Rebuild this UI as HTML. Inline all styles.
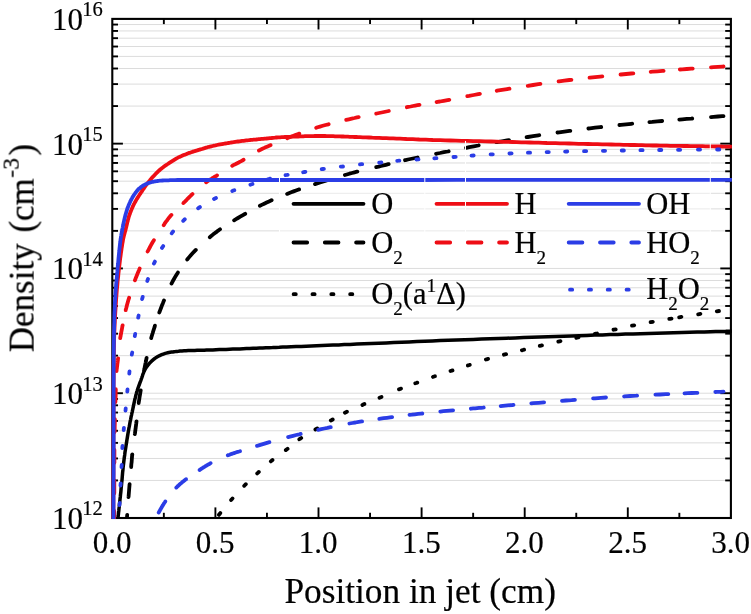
<!DOCTYPE html>
<html><head><meta charset="utf-8"><title>Density vs position in jet</title>
<style>html,body{margin:0;padding:0;background:#fff}svg{display:block}text{font-family:"Liberation Serif",serif}</style>
</head><body>
<svg width="751" height="614" viewBox="0 0 751 614">
<rect x="0" y="0" width="751" height="614" fill="#fff"/>
<g stroke="#dcdcdc" stroke-width="1"><line x1="112.3" x2="730.9" y1="480.44" y2="480.44"/><line x1="112.3" x2="730.9" y1="458.46" y2="458.46"/><line x1="112.3" x2="730.9" y1="442.87" y2="442.87"/><line x1="112.3" x2="730.9" y1="430.78" y2="430.78"/><line x1="112.3" x2="730.9" y1="420.90" y2="420.90"/><line x1="112.3" x2="730.9" y1="412.54" y2="412.54"/><line x1="112.3" x2="730.9" y1="405.31" y2="405.31"/><line x1="112.3" x2="730.9" y1="398.92" y2="398.92"/><line x1="112.3" x2="730.9" y1="393.21" y2="393.21"/><line x1="112.3" x2="730.9" y1="355.65" y2="355.65"/><line x1="112.3" x2="730.9" y1="333.67" y2="333.67"/><line x1="112.3" x2="730.9" y1="318.08" y2="318.08"/><line x1="112.3" x2="730.9" y1="305.99" y2="305.99"/><line x1="112.3" x2="730.9" y1="296.11" y2="296.11"/><line x1="112.3" x2="730.9" y1="287.75" y2="287.75"/><line x1="112.3" x2="730.9" y1="280.52" y2="280.52"/><line x1="112.3" x2="730.9" y1="274.13" y2="274.13"/><line x1="112.3" x2="730.9" y1="268.43" y2="268.43"/><line x1="112.3" x2="730.9" y1="230.86" y2="230.86"/><line x1="112.3" x2="730.9" y1="208.89" y2="208.89"/><line x1="112.3" x2="730.9" y1="193.30" y2="193.30"/><line x1="112.3" x2="730.9" y1="181.20" y2="181.20"/><line x1="112.3" x2="730.9" y1="171.32" y2="171.32"/><line x1="112.3" x2="730.9" y1="162.97" y2="162.97"/><line x1="112.3" x2="730.9" y1="155.73" y2="155.73"/><line x1="112.3" x2="730.9" y1="149.35" y2="149.35"/><line x1="112.3" x2="730.9" y1="143.64" y2="143.64"/><line x1="112.3" x2="730.9" y1="106.07" y2="106.07"/><line x1="112.3" x2="730.9" y1="84.10" y2="84.10"/><line x1="112.3" x2="730.9" y1="68.51" y2="68.51"/><line x1="112.3" x2="730.9" y1="56.41" y2="56.41"/><line x1="112.3" x2="730.9" y1="46.53" y2="46.53"/><line x1="112.3" x2="730.9" y1="38.18" y2="38.18"/><line x1="112.3" x2="730.9" y1="30.94" y2="30.94"/><line x1="112.3" x2="730.9" y1="24.56" y2="24.56"/></g>
<rect x="279.5" y="176" width="430.5" height="90" fill="#fff" fill-opacity="0.4"/>
<g stroke="#000" stroke-width="1.9"><line x1="112.3" x2="118.0" y1="480.44" y2="480.44"/><line x1="730.9" x2="725.2" y1="480.44" y2="480.44"/><line x1="112.3" x2="118.0" y1="458.46" y2="458.46"/><line x1="730.9" x2="725.2" y1="458.46" y2="458.46"/><line x1="112.3" x2="118.0" y1="442.87" y2="442.87"/><line x1="730.9" x2="725.2" y1="442.87" y2="442.87"/><line x1="112.3" x2="118.0" y1="430.78" y2="430.78"/><line x1="730.9" x2="725.2" y1="430.78" y2="430.78"/><line x1="112.3" x2="118.0" y1="420.90" y2="420.90"/><line x1="730.9" x2="725.2" y1="420.90" y2="420.90"/><line x1="112.3" x2="118.0" y1="412.54" y2="412.54"/><line x1="730.9" x2="725.2" y1="412.54" y2="412.54"/><line x1="112.3" x2="118.0" y1="405.31" y2="405.31"/><line x1="730.9" x2="725.2" y1="405.31" y2="405.31"/><line x1="112.3" x2="118.0" y1="398.92" y2="398.92"/><line x1="730.9" x2="725.2" y1="398.92" y2="398.92"/><line x1="112.3" x2="122.9" y1="393.21" y2="393.21"/><line x1="730.9" x2="720.3" y1="393.21" y2="393.21"/><line x1="112.3" x2="118.0" y1="355.65" y2="355.65"/><line x1="730.9" x2="725.2" y1="355.65" y2="355.65"/><line x1="112.3" x2="118.0" y1="333.67" y2="333.67"/><line x1="730.9" x2="725.2" y1="333.67" y2="333.67"/><line x1="112.3" x2="118.0" y1="318.08" y2="318.08"/><line x1="730.9" x2="725.2" y1="318.08" y2="318.08"/><line x1="112.3" x2="118.0" y1="305.99" y2="305.99"/><line x1="730.9" x2="725.2" y1="305.99" y2="305.99"/><line x1="112.3" x2="118.0" y1="296.11" y2="296.11"/><line x1="730.9" x2="725.2" y1="296.11" y2="296.11"/><line x1="112.3" x2="118.0" y1="287.75" y2="287.75"/><line x1="730.9" x2="725.2" y1="287.75" y2="287.75"/><line x1="112.3" x2="118.0" y1="280.52" y2="280.52"/><line x1="730.9" x2="725.2" y1="280.52" y2="280.52"/><line x1="112.3" x2="118.0" y1="274.13" y2="274.13"/><line x1="730.9" x2="725.2" y1="274.13" y2="274.13"/><line x1="112.3" x2="122.9" y1="268.43" y2="268.43"/><line x1="730.9" x2="720.3" y1="268.43" y2="268.43"/><line x1="112.3" x2="118.0" y1="230.86" y2="230.86"/><line x1="730.9" x2="725.2" y1="230.86" y2="230.86"/><line x1="112.3" x2="118.0" y1="208.89" y2="208.89"/><line x1="730.9" x2="725.2" y1="208.89" y2="208.89"/><line x1="112.3" x2="118.0" y1="193.30" y2="193.30"/><line x1="730.9" x2="725.2" y1="193.30" y2="193.30"/><line x1="112.3" x2="118.0" y1="181.20" y2="181.20"/><line x1="730.9" x2="725.2" y1="181.20" y2="181.20"/><line x1="112.3" x2="118.0" y1="171.32" y2="171.32"/><line x1="730.9" x2="725.2" y1="171.32" y2="171.32"/><line x1="112.3" x2="118.0" y1="162.97" y2="162.97"/><line x1="730.9" x2="725.2" y1="162.97" y2="162.97"/><line x1="112.3" x2="118.0" y1="155.73" y2="155.73"/><line x1="730.9" x2="725.2" y1="155.73" y2="155.73"/><line x1="112.3" x2="118.0" y1="149.35" y2="149.35"/><line x1="730.9" x2="725.2" y1="149.35" y2="149.35"/><line x1="112.3" x2="122.9" y1="143.64" y2="143.64"/><line x1="730.9" x2="720.3" y1="143.64" y2="143.64"/><line x1="112.3" x2="118.0" y1="106.07" y2="106.07"/><line x1="730.9" x2="725.2" y1="106.07" y2="106.07"/><line x1="112.3" x2="118.0" y1="84.10" y2="84.10"/><line x1="730.9" x2="725.2" y1="84.10" y2="84.10"/><line x1="112.3" x2="118.0" y1="68.51" y2="68.51"/><line x1="730.9" x2="725.2" y1="68.51" y2="68.51"/><line x1="112.3" x2="118.0" y1="56.41" y2="56.41"/><line x1="730.9" x2="725.2" y1="56.41" y2="56.41"/><line x1="112.3" x2="118.0" y1="46.53" y2="46.53"/><line x1="730.9" x2="725.2" y1="46.53" y2="46.53"/><line x1="112.3" x2="118.0" y1="38.18" y2="38.18"/><line x1="730.9" x2="725.2" y1="38.18" y2="38.18"/><line x1="112.3" x2="118.0" y1="30.94" y2="30.94"/><line x1="730.9" x2="725.2" y1="30.94" y2="30.94"/><line x1="112.3" x2="118.0" y1="24.56" y2="24.56"/><line x1="730.9" x2="725.2" y1="24.56" y2="24.56"/><line x1="163.85" x2="163.85" y1="18.9" y2="24.1"/><line x1="163.85" x2="163.85" y1="518.0" y2="512.8"/><line x1="215.40" x2="215.40" y1="18.9" y2="29.5"/><line x1="215.40" x2="215.40" y1="518.0" y2="507.4"/><line x1="266.95" x2="266.95" y1="18.9" y2="24.1"/><line x1="266.95" x2="266.95" y1="518.0" y2="512.8"/><line x1="318.50" x2="318.50" y1="18.9" y2="29.5"/><line x1="318.50" x2="318.50" y1="518.0" y2="507.4"/><line x1="370.05" x2="370.05" y1="18.9" y2="24.1"/><line x1="370.05" x2="370.05" y1="518.0" y2="512.8"/><line x1="421.60" x2="421.60" y1="18.9" y2="29.5"/><line x1="421.60" x2="421.60" y1="518.0" y2="507.4"/><line x1="473.15" x2="473.15" y1="18.9" y2="24.1"/><line x1="473.15" x2="473.15" y1="518.0" y2="512.8"/><line x1="524.70" x2="524.70" y1="18.9" y2="29.5"/><line x1="524.70" x2="524.70" y1="518.0" y2="507.4"/><line x1="576.25" x2="576.25" y1="18.9" y2="24.1"/><line x1="576.25" x2="576.25" y1="518.0" y2="512.8"/><line x1="627.80" x2="627.80" y1="18.9" y2="29.5"/><line x1="627.80" x2="627.80" y1="518.0" y2="507.4"/><line x1="679.35" x2="679.35" y1="18.9" y2="24.1"/><line x1="679.35" x2="679.35" y1="518.0" y2="512.8"/></g>
<rect x="112.3" y="18.9" width="618.6" height="499.1" fill="none" stroke="#000" stroke-width="2.1"/>
<clipPath id="c"><rect x="110.3" y="17.8" width="621.6" height="501.2"/></clipPath>
<g clip-path="url(#c)" fill="none" stroke-width="3.8" stroke-linecap="round" stroke-linejoin="round"><path d="M118.0 517.6L118.3 515.3L118.5 513.0L118.8 510.7L119.0 508.4L119.3 506.2L119.5 503.9L119.8 501.6L120.0 499.3L120.3 497.0L120.5 494.7L120.8 492.3L121.0 490.0L121.2 487.5L121.5 485.1L121.7 482.6L122.0 480.1L122.2 477.6L122.4 475.1L122.6 472.6L122.9 470.0L123.1 467.5L123.4 465.0L123.7 462.5L124.0 460.0L124.3 457.5L124.7 454.9L125.0 452.3L125.4 449.8L125.8 447.2L126.2 444.6L126.6 442.1L127.0 439.5L127.4 437.1L127.8 434.6L128.2 432.3L128.6 430.0L128.9 428.2L129.3 426.4L129.6 424.7L129.9 423.0L130.2 421.3L130.6 419.6L130.9 418.0L131.2 416.4L131.6 414.8L131.9 413.2L132.3 411.6L132.6 410.0L132.9 408.6L133.2 407.1L133.5 405.7L133.8 404.3L134.1 402.9L134.4 401.5L134.7 400.1L135.0 398.7L135.4 397.4L135.7 396.0L136.0 394.7L136.4 393.4L136.7 392.2L137.1 391.1L137.5 389.9L137.8 388.8L138.2 387.6L138.6 386.5L139.0 385.4L139.4 384.3L139.8 383.2L140.2 382.1L140.6 381.1L141.0 380.0L141.3 379.0L141.7 378.1L142.0 377.1L142.3 376.2L142.6 375.2L142.9 374.3L143.3 373.4L143.6 372.5L144.0 371.6L144.4 370.7L144.8 369.9L145.3 369.0L145.8 368.1L146.4 367.3L147.0 366.4L147.6 365.6L148.2 364.8L148.9 364.0L149.6 363.2L150.3 362.4L151.0 361.7L151.8 360.9L152.5 360.3L153.3 359.6L154.1 359.0L154.9 358.4L155.7 357.8L156.6 357.3L157.4 356.8L158.3 356.3L159.2 355.8L160.1 355.4L161.1 354.9L162.0 354.5L163.0 354.2L164.0 353.8L165.2 353.4L166.4 353.1L167.6 352.8L168.9 352.5L170.2 352.3L171.5 352.1L172.8 351.9L174.2 351.7L175.6 351.6L177.0 351.4L178.5 351.3L180.0 351.1L182.0 350.9L184.0 350.8L186.0 350.7L188.2 350.6L190.3 350.5L192.5 350.4L194.8 350.4L197.1 350.3L199.4 350.3L201.8 350.2L204.2 350.2L206.6 350.1L209.6 350.0L212.8 349.9L216.0 349.7L219.3 349.6L222.7 349.5L226.0 349.4L229.5 349.2L232.9 349.1L236.3 349.0L239.8 348.9L243.1 348.7L246.5 348.6L249.8 348.5L253.1 348.3L256.3 348.2L259.5 348.1L262.7 348.0L265.9 347.8L269.2 347.7L272.5 347.6L275.9 347.4L279.3 347.3L282.8 347.1L286.5 347.0L291.2 346.8L296.1 346.6L301.1 346.4L306.2 346.2L311.4 346.0L316.6 345.8L322.0 345.6L327.5 345.3L333.0 345.1L338.6 344.9L344.3 344.6L350.0 344.4L356.9 344.1L364.0 343.8L371.3 343.5L378.7 343.2L386.1 342.9L393.7 342.5L401.4 342.2L409.1 341.9L416.8 341.5L424.5 341.2L432.3 340.9L440.0 340.6L448.2 340.3L456.4 340.0L464.7 339.7L473.1 339.4L481.5 339.1L489.9 338.7L498.3 338.5L506.7 338.2L515.1 337.9L523.5 337.6L531.8 337.3L540.0 337.0L547.9 336.7L555.7 336.5L563.6 336.2L571.4 335.9L579.1 335.7L586.9 335.4L594.6 335.1L602.4 334.9L610.0 334.6L617.7 334.4L625.4 334.1L633.0 333.9L640.6 333.7L648.6 333.4L656.9 333.2L665.3 333.0L673.6 332.7L681.8 332.5L689.7 332.3L697.2 332.1L704.1 331.9L710.3 331.8L715.6 331.6L720.0 331.5L721.3 331.5L722.5 331.4L723.5 331.4L724.5 331.4L725.4 331.4L726.3 331.3L727.1 331.3L727.9 331.3L728.6 331.3L729.5 331.2L730.3 331.2L731.2 331.2" stroke="#000" stroke-width="3.5"/><path d="M127.0 517.6L127.1 516.0L127.2 514.8M128.5 497.1L128.6 496.4L128.7 495.1L128.8 493.9L128.9 492.6L129.0 491.4L129.1 490.2L129.2 488.9L129.3 487.7L129.4 486.5L129.5 485.2L129.6 484.2M131.2 467.1L131.2 466.4L131.3 465.0L131.4 463.7L131.6 462.4L131.7 461.1L131.8 459.7L131.9 458.4L132.0 457.0L132.1 455.7L132.3 454.4L132.3 454.3M134.8 434.1L134.9 433.6L135.1 432.4L135.2 431.3L135.4 430.1L135.5 429.0L135.7 427.9L135.8 426.7L136.0 425.6L136.1 424.4L136.3 423.2L136.4 422.0L136.5 421.3M138.7 403.1L138.7 402.6L138.9 401.5L139.1 400.3L139.3 399.2L139.4 398.1L139.6 397.0L139.8 395.8L140.0 394.7L140.2 393.5L140.4 392.3L140.6 391.0L140.7 390.4M144.1 370.4L144.4 369.0L144.5 368.2L144.7 367.5L144.8 366.8L144.9 366.1L145.1 365.5L145.2 364.9L145.3 364.3L145.4 363.7L145.6 363.1L145.7 362.5L145.8 361.8L146.0 361.0L146.2 359.8L146.5 358.5L146.6 357.8M151.2 338.1L151.4 337.2L151.7 336.2L152.0 335.2L152.3 334.2L152.7 333.1L153.0 332.0L153.5 330.3L154.1 328.5L154.7 326.6L154.9 325.7M159.3 312.5L159.4 312.2L160.2 310.1L161.0 308.0L161.9 305.6L162.9 303.2L163.8 300.8L164.0 300.4M171.5 283.6L171.5 283.6L172.7 281.3L174.0 279.0L175.2 276.9L176.5 274.7L177.8 272.7L177.9 272.5M187.2 259.5L187.8 258.8L189.4 256.9L191.0 255.0L192.8 253.0L194.6 251.1L195.8 249.9M209.8 237.2L210.9 236.3L212.9 234.6L215.0 233.0L216.9 231.6L218.7 230.2L220.0 229.3M234.1 220.3L236.0 219.2L238.0 218.0L240.2 216.7L242.5 215.3L244.9 214.0L245.2 213.8M259.9 205.8L261.7 204.9L264.2 203.7L266.6 202.5L269.0 201.4L271.5 200.3L271.6 200.2M287.1 193.9L288.8 193.2L291.2 192.3L293.6 191.4L296.0 190.5L298.1 189.7L299.1 189.4M315.0 184.1L315.8 183.8L317.9 183.2L320.0 182.5L322.5 181.7L325.1 180.9L327.3 180.2M344.9 175.0L346.7 174.5L349.4 173.7L352.0 173.0L354.5 172.3L356.9 171.7L357.4 171.6M376.2 167.1L376.2 167.1L378.6 166.6L381.0 166.0L383.4 165.4L385.9 164.8L388.3 164.2L388.7 164.1M405.0 160.2L405.5 160.1L407.9 159.5L410.4 159.0L412.8 158.5L415.2 158.0L417.6 157.5M436.1 153.8L437.2 153.5L440.0 153.0L443.8 152.2L447.8 151.5L448.7 151.3M466.1 147.9L469.3 147.2L473.8 146.4L478.3 145.5L478.7 145.4M496.3 142.2L497.0 142.1L502.0 141.3L507.1 140.4L509.0 140.1M526.6 137.2L527.9 137.0L533.1 136.1L538.4 135.3L539.3 135.2M557.5 132.5L559.1 132.3L564.3 131.6L569.4 130.9L570.3 130.8M588.4 128.5L590.0 128.3L595.1 127.7L600.3 127.1L601.2 127.0M619.4 125.0L620.9 124.9L626.1 124.3L631.3 123.8L632.2 123.7M649.4 122.1L652.2 121.9L657.4 121.4L662.2 121.0M679.3 119.6L682.3 119.3L686.8 118.9L691.3 118.6L692.2 118.5M711.0 117.1L713.5 116.9L717.9 116.5L722.3 116.2L723.5 116.1" stroke="#000"/><path d="M218.9 514.9L219.0 514.7L219.3 514.4L219.6 514.0L220.3 513.1M231.1 500.0L232.0 499.0L232.5 498.4M244.2 485.8L244.5 485.5L245.6 484.4L245.8 484.2M257.2 473.4L258.1 472.6L258.8 471.9M270.8 461.4L271.9 460.5L272.5 460.0M285.8 450.1L286.9 449.3L287.6 448.8M299.3 439.3L300.0 438.8L301.2 438.0M315.4 429.5L315.4 429.5L316.8 428.7L317.3 428.4M330.8 420.5L331.8 420.0L332.7 419.5M344.9 412.7L345.5 412.4L346.8 411.8L346.9 411.7M362.4 404.9L363.7 404.3L364.4 404.0M379.5 397.7L380.2 397.4L381.5 396.9M399.0 389.4L399.3 389.3L400.7 388.7L401.0 388.6M415.3 383.3L416.2 383.0L417.3 382.6M433.0 376.9L433.4 376.7L434.9 376.2L435.0 376.2M450.5 371.0L451.8 370.6L452.5 370.4M467.8 365.5L467.9 365.5L469.4 365.0L469.8 364.9M485.9 359.5L486.6 359.3L488.1 358.9M503.9 354.7L506.1 354.2M521.9 350.3L523.0 350.0L524.1 349.7M539.8 345.9L541.3 345.5L542.0 345.4M558.3 341.6L559.6 341.3L560.5 341.1M576.3 337.8L577.8 337.5L578.5 337.3M594.9 333.9L596.0 333.7L597.1 333.5M613.5 329.7L613.9 329.6L615.7 329.3M632.0 325.7L634.2 325.3M650.6 322.2L650.6 322.2L652.8 321.8M669.3 318.9L670.0 318.8L671.5 318.6M679.2 317.3L681.4 316.9M698.2 314.3L700.4 313.9M716.8 311.3L719.0 311.0" stroke="#000"/><path d="M113.4 518.0L113.4 509.8L113.4 501.6L113.4 493.3L113.5 485.0L113.5 476.7L113.5 468.4L113.5 460.1L113.5 451.9L113.5 443.8L113.5 435.8L113.6 427.8L113.6 420.0L113.6 413.0L113.6 405.9L113.6 398.8L113.6 391.7L113.6 384.7L113.7 377.8L113.7 371.0L113.7 364.3L113.8 357.9L113.9 351.6L114.0 345.7L114.1 340.0L114.2 336.2L114.3 332.5L114.5 328.9L114.6 325.5L114.8 322.1L114.9 318.8L115.1 315.6L115.3 312.5L115.5 309.3L115.7 306.2L115.9 303.1L116.1 300.0L116.3 297.2L116.5 294.5L116.7 291.8L116.9 289.2L117.2 286.6L117.4 284.0L117.6 281.4L117.9 278.8L118.2 276.3L118.4 273.7L118.7 271.2L119.0 268.6L119.3 266.1L119.6 263.6L119.9 261.0L120.2 258.4L120.6 255.8L120.9 253.3L121.3 250.8L121.6 248.4L122.0 246.1L122.3 243.9L122.7 241.9L123.0 240.0L123.2 239.0L123.4 238.1L123.6 237.2L123.8 236.4L124.0 235.6L124.2 234.8L124.4 234.0L124.6 233.3L124.8 232.5L125.0 231.7L125.3 230.9L125.5 230.0L125.8 228.8L126.1 227.6L126.4 226.3L126.7 225.0L127.0 223.7L127.3 222.4L127.7 221.1L128.0 219.7L128.4 218.4L128.7 217.1L129.1 215.9L129.5 214.7L129.9 213.7L130.2 212.7L130.6 211.7L131.0 210.7L131.4 209.8L131.8 208.8L132.2 207.9L132.6 207.0L133.0 206.0L133.5 205.1L133.9 204.2L134.4 203.3L134.9 202.4L135.4 201.5L135.9 200.6L136.4 199.7L136.9 198.8L137.5 198.0L138.0 197.1L138.6 196.2L139.2 195.3L139.7 194.5L140.3 193.6L140.9 192.7L141.5 191.8L142.2 190.8L142.8 189.8L143.5 188.9L144.1 187.9L144.8 187.0L145.5 186.0L146.2 185.0L146.9 184.1L147.6 183.1L148.4 182.2L149.1 181.3L149.9 180.4L150.6 179.4L151.4 178.5L152.2 177.6L153.0 176.7L153.9 175.8L154.7 174.9L155.5 174.0L156.4 173.1L157.2 172.3L158.1 171.5L158.9 170.7L159.7 170.0L160.5 169.3L161.3 168.7L162.1 168.1L162.9 167.4L163.7 166.8L164.5 166.2L165.3 165.7L166.1 165.1L167.0 164.5L167.8 164.0L168.6 163.4L169.4 162.9L170.2 162.3L171.0 161.8L171.8 161.3L172.6 160.8L173.4 160.3L174.2 159.8L175.0 159.3L175.8 158.8L176.7 158.3L177.5 157.9L178.4 157.4L179.4 156.9L180.5 156.4L181.5 156.0L182.6 155.5L183.7 155.0L184.9 154.6L186.0 154.2L187.1 153.7L188.2 153.3L189.3 152.9L190.4 152.6L191.4 152.2L192.3 151.9L193.1 151.6L193.9 151.3L194.8 151.1L195.6 150.8L196.4 150.6L197.2 150.4L198.0 150.1L198.8 149.9L199.6 149.7L200.4 149.4L201.2 149.2L201.9 149.0L202.7 148.8L203.4 148.5L204.0 148.3L204.7 148.1L205.4 147.9L206.1 147.7L206.8 147.5L207.6 147.2L208.4 147.0L209.2 146.8L210.0 146.6L211.3 146.3L212.6 146.0L214.1 145.7L215.5 145.4L217.1 145.0L218.6 144.7L220.2 144.4L221.8 144.1L223.4 143.8L224.9 143.5L226.5 143.3L228.0 143.0L229.4 142.8L230.9 142.5L232.3 142.3L233.7 142.1L235.2 141.9L236.6 141.7L238.0 141.5L239.4 141.3L240.8 141.1L242.2 140.9L243.6 140.8L245.0 140.6L246.3 140.4L247.5 140.3L248.8 140.2L250.0 140.0L251.2 139.9L252.4 139.8L253.6 139.7L254.9 139.6L256.1 139.5L257.4 139.3L258.7 139.2L260.0 139.1L261.6 138.9L263.2 138.8L264.8 138.6L266.5 138.5L268.1 138.3L269.8 138.1L271.5 138.0L273.2 137.8L274.9 137.7L276.6 137.5L278.3 137.4L280.0 137.3L281.7 137.2L283.3 137.1L285.0 137.0L286.7 136.9L288.3 136.8L290.0 136.8L291.7 136.7L293.3 136.6L295.0 136.6L296.7 136.5L298.3 136.5L300.0 136.4L301.7 136.3L303.3 136.3L305.0 136.2L306.7 136.2L308.3 136.2L310.0 136.1L311.7 136.1L313.3 136.1L315.0 136.0L316.7 136.0L318.3 136.0L320.0 136.0L321.7 136.0L323.3 136.0L325.0 136.0L326.7 136.1L328.3 136.1L330.0 136.1L331.7 136.2L333.3 136.2L335.0 136.3L336.7 136.3L338.3 136.4L340.0 136.4L341.6 136.5L343.3 136.5L344.8 136.6L346.4 136.6L348.0 136.7L349.6 136.8L351.2 136.8L352.8 136.9L354.5 137.0L356.3 137.0L358.1 137.1L360.0 137.2L362.9 137.3L365.9 137.4L369.0 137.5L372.3 137.7L375.7 137.8L379.1 137.9L382.6 138.1L386.2 138.2L389.7 138.3L393.2 138.4L396.6 138.6L400.0 138.7L403.3 138.8L406.5 139.0L409.8 139.1L412.9 139.2L416.1 139.3L419.3 139.5L422.6 139.6L425.9 139.7L429.3 139.8L432.7 140.0L436.3 140.1L440.0 140.2L445.1 140.4L450.4 140.5L455.9 140.6L461.6 140.8L467.4 140.9L473.3 141.1L479.3 141.2L485.2 141.4L491.1 141.5L496.8 141.6L502.4 141.8L507.8 141.9L512.4 142.0L516.9 142.1L521.3 142.3L525.6 142.4L529.9 142.5L534.2 142.6L538.5 142.7L542.7 142.8L547.0 143.0L551.3 143.1L555.6 143.2L560.0 143.3L564.6 143.4L569.3 143.5L573.9 143.6L578.7 143.8L583.4 143.9L588.1 144.0L592.9 144.1L597.5 144.2L602.2 144.3L606.8 144.4L611.3 144.5L615.7 144.6L619.6 144.7L623.4 144.8L627.2 144.9L630.9 145.0L634.6 145.0L638.3 145.1L642.0 145.2L645.6 145.3L649.2 145.4L652.8 145.5L656.4 145.5L660.0 145.6L663.4 145.7L666.8 145.7L670.3 145.8L673.7 145.8L677.1 145.9L680.4 145.9L683.8 146.0L687.1 146.0L690.4 146.1L693.6 146.1L696.8 146.2L700.0 146.2L702.7 146.2L705.4 146.3L708.1 146.3L710.7 146.4L713.3 146.4L715.8 146.5L718.4 146.5L720.9 146.5L723.5 146.6L726.0 146.6L728.6 146.7L731.2 146.7" stroke="#ee0d15"/><path d="M114.2 518.5L114.2 511.3L114.2 511.0M114.3 493.3L114.3 489.1L114.3 481.5L114.3 480.4M114.4 462.7L114.4 459.6L114.4 452.7L114.4 449.8M114.6 432.1L114.7 430.4L114.7 426.9L114.8 423.5L114.9 420.3L114.9 419.2M115.4 402.1L115.5 399.8L115.6 397.0L115.7 394.8L115.7 392.6L115.8 390.5L115.8 389.2M116.6 371.1L116.6 370.5L116.7 369.3L116.9 368.1L117.0 367.0L117.2 365.8L117.3 364.7L117.4 363.6L117.6 362.5L117.7 361.4L117.9 360.2L118.0 359.0L118.1 358.3M120.2 338.1L120.3 337.5L120.4 336.9L120.6 336.3L120.7 335.6L120.8 334.8L121.0 334.0L121.3 332.2L121.7 330.2L122.1 328.0L122.5 325.7L122.6 325.4M125.7 310.2L125.7 310.0L126.4 307.5L127.0 305.0L127.7 302.5L128.4 300.0L129.1 297.8M134.9 280.3L135.1 279.9L136.0 277.4L137.0 275.0L138.0 272.6L139.0 270.2L139.7 268.4M147.6 251.5L147.7 251.3L148.9 249.1L150.0 247.0L151.0 245.2L151.9 243.5L152.9 241.8L153.9 240.2M163.7 225.2L164.0 224.8L164.6 223.7L165.3 222.7L166.0 221.7L166.7 220.8L167.4 219.8L168.1 218.9L168.8 217.9L169.6 217.0L170.4 216.0L171.3 215.0L171.4 214.9M183.4 203.1L183.9 202.5L184.9 201.6L185.9 200.6L186.9 199.6L187.8 198.6L188.8 197.6L189.8 196.6L190.8 195.7L191.8 194.7L192.5 194.0M206.1 182.3L206.6 182.0L207.6 181.3L208.5 180.6L209.5 180.0L210.5 179.4L211.5 178.8L212.4 178.2L213.4 177.6L214.4 177.0L215.4 176.4L216.4 175.8L217.0 175.4M232.2 165.8L232.9 165.4L233.8 164.9L234.8 164.4L235.7 164.0L236.7 163.5L237.7 163.0L238.7 162.5L239.7 161.9L240.7 161.4L241.8 160.8L243.2 160.0L243.6 159.8M258.9 150.5L260.0 150.0L262.4 148.8L264.9 147.6L267.6 146.4L270.3 145.2L270.6 145.1M287.2 138.3L287.5 138.1L290.3 137.0L293.0 136.0L295.3 135.1L297.6 134.2L299.3 133.6M316.2 127.8L317.6 127.3L320.0 126.6L322.7 125.8L325.5 125.0L328.4 124.3L328.6 124.2M346.2 119.9L348.8 119.3L351.7 118.6L354.5 118.0L357.0 117.4L358.7 117.1M376.2 113.6L376.7 113.5L379.1 113.0L381.6 112.5L384.0 112.0L386.4 111.5L388.8 111.0M406.9 107.2L408.2 106.9L410.6 106.5L413.0 106.0L415.3 105.6L417.4 105.2L419.5 104.8M436.6 102.1L437.4 101.9L440.0 101.5L443.7 100.8L447.6 100.1L449.3 99.8M467.3 96.2L469.1 95.9L473.7 95.0L478.3 94.1L479.9 93.8M496.8 90.8L497.0 90.7L502.0 89.9L507.1 89.1L509.5 88.7M527.7 85.8L527.9 85.8L533.1 85.0L538.4 84.2L540.4 83.9M558.6 81.4L559.1 81.3L564.3 80.7L569.4 80.0L571.4 79.8M589.5 77.7L590.0 77.7L595.1 77.1L600.3 76.6L602.3 76.4M620.5 74.5L620.9 74.5L626.1 74.0L631.3 73.5L633.3 73.3M650.7 71.8L652.2 71.7L657.4 71.3L662.5 70.9L663.6 70.8M679.8 69.5L682.3 69.4L686.8 69.0L691.3 68.7L692.7 68.6M711.0 67.4L713.5 67.2L717.9 66.9L722.3 66.6L723.5 66.5" stroke="#ee0d15"/><path d="M113.5 518.5L113.5 512.8L113.5 507.3L113.5 501.8L113.5 496.3L113.5 490.8L113.5 485.3L113.5 479.7L113.6 474.0L113.6 468.3L113.6 462.4L113.6 456.3L113.6 450.0L113.6 441.6L113.6 432.5L113.6 423.0L113.6 413.2L113.6 403.2L113.6 393.2L113.6 383.3L113.6 373.6L113.7 364.3L113.7 355.5L113.8 347.3L113.9 340.0L114.0 336.0L114.0 332.1L114.1 328.5L114.2 325.0L114.3 321.7L114.3 318.5L114.4 315.3L114.5 312.2L114.7 309.2L114.8 306.2L114.9 303.1L115.1 300.0L115.3 297.2L115.4 294.5L115.6 291.8L115.8 289.2L116.0 286.6L116.2 284.0L116.5 281.4L116.7 278.8L116.9 276.3L117.1 273.7L117.4 271.2L117.6 268.6L117.8 266.1L118.1 263.6L118.3 261.0L118.5 258.4L118.8 255.8L119.0 253.3L119.3 250.8L119.5 248.4L119.8 246.1L120.0 243.9L120.3 241.9L120.5 240.0L120.6 239.0L120.8 238.1L120.9 237.2L121.0 236.4L121.2 235.6L121.3 234.8L121.4 234.0L121.6 233.3L121.7 232.5L121.9 231.7L122.0 230.9L122.2 230.0L122.4 228.8L122.7 227.6L122.9 226.3L123.2 225.0L123.4 223.7L123.7 222.4L124.0 221.1L124.3 219.7L124.6 218.4L124.9 217.1L125.2 215.9L125.5 214.7L125.8 213.7L126.1 212.7L126.4 211.7L126.7 210.7L127.0 209.7L127.3 208.8L127.7 207.8L128.0 206.9L128.4 206.0L128.7 205.1L129.1 204.2L129.5 203.3L129.9 202.5L130.2 201.7L130.6 200.9L131.0 200.1L131.4 199.3L131.8 198.6L132.2 197.8L132.6 197.1L133.1 196.4L133.5 195.7L133.9 195.0L134.4 194.3L134.8 193.7L135.3 193.1L135.7 192.5L136.2 191.9L136.6 191.4L137.1 190.8L137.5 190.3L138.0 189.7L138.5 189.2L139.0 188.7L139.6 188.3L140.1 187.8L140.7 187.4L141.2 186.9L141.8 186.5L142.4 186.1L143.0 185.7L143.6 185.3L144.2 185.0L144.9 184.6L145.5 184.3L146.2 184.0L146.8 183.7L147.5 183.4L148.2 183.1L149.0 182.8L149.7 182.6L150.5 182.4L151.3 182.2L152.0 182.0L152.8 181.8L153.7 181.6L154.5 181.4L155.4 181.3L156.3 181.1L157.2 181.0L158.5 180.8L159.8 180.7L161.1 180.6L162.5 180.5L164.0 180.4L165.4 180.3L166.9 180.3L168.5 180.3L170.1 180.2L171.7 180.2L173.4 180.1L175.1 180.1L177.6 180.0L180.1 180.0L182.6 180.0L185.3 180.0L188.0 180.0L190.8 180.0L193.7 180.0L196.7 180.0L199.9 180.0L203.1 180.0L206.5 180.0L210.0 180.0L215.8 180.0L221.8 180.0L228.0 180.0L234.4 180.0L241.1 180.0L248.2 180.0L255.6 180.0L263.5 180.0L271.8 180.0L280.6 180.0L290.0 180.0L300.0 180.0L324.7 180.0L353.3 180.0L385.2 180.0L419.9 180.0L456.9 179.9L495.5 179.9L535.3 179.9L575.6 179.9L615.9 179.9L655.6 179.8L694.2 179.8L731.2 179.8" stroke="#2b3de6"/><path d="M158.7 512.6L158.8 512.4L159.3 511.5L159.9 510.5L160.4 509.5L161.0 508.4L161.7 507.3L162.3 506.2L163.0 505.2L163.6 504.1L164.3 503.0L165.0 502.0L165.3 501.5M176.3 487.6L176.6 487.3L177.4 486.5L178.2 485.8L179.0 485.0L179.8 484.3L180.7 483.6L181.5 482.9L182.3 482.1L183.2 481.4L184.1 480.7L185.0 480.0L186.0 479.2L186.1 479.2M199.6 470.0L200.1 469.6L201.2 468.9L202.3 468.2L203.3 467.5L204.4 466.9L205.5 466.2L206.6 465.5L207.6 464.9L208.8 464.3L209.9 463.6L210.6 463.2M227.8 455.3L228.3 455.1L229.5 454.7L230.6 454.3L231.7 453.9L232.8 453.5L234.0 453.1L235.2 452.7L236.4 452.3L237.7 451.9L239.1 451.5L240.0 451.2M257.0 445.8L257.9 445.6L261.2 444.6L264.5 443.6L267.8 442.6L269.4 442.2M288.1 437.1L290.0 436.6L293.1 435.8L296.2 435.0L299.3 434.3L300.7 433.9M318.2 429.9L321.2 429.2L324.3 428.5L327.4 427.9L330.6 427.2L330.8 427.2M349.4 423.5L352.4 423.0L355.5 422.5L358.7 421.9L361.8 421.4L362.1 421.4M379.3 418.9L380.6 418.7L383.7 418.2L386.9 417.8L390.0 417.4L392.1 417.1M409.5 414.9L411.8 414.7L414.9 414.3L418.0 413.9L421.2 413.6L422.3 413.5M440.3 411.6L443.4 411.2L446.6 410.9L449.8 410.6L453.0 410.3L453.1 410.3M470.9 408.7L471.3 408.6L473.2 408.4L475.2 408.3L477.1 408.1L479.0 407.9L481.0 407.8L483.1 407.6L483.7 407.5M500.7 406.1L502.9 405.9L507.6 405.4L512.6 405.0L513.5 404.9M531.3 403.4L533.3 403.2L538.6 402.8L543.8 402.3L544.1 402.3M562.0 400.9L566.0 400.5L571.7 400.1L574.9 399.8M593.1 398.4L595.1 398.3L601.0 397.9L606.0 397.5M624.2 396.4L624.3 396.3L630.2 396.0L636.2 395.7L637.1 395.6M655.4 394.7L660.1 394.5L665.9 394.2L668.3 394.1M684.5 393.4L687.8 393.2L691.8 393.0L695.6 392.8L697.4 392.8M715.3 392.0L717.1 391.9L720.6 391.8L723.5 391.6" stroke="#2b3de6"/><path d="M119.5 505.1L119.6 504.0L119.7 502.9M120.5 485.5L120.6 484.4L120.7 483.3M121.5 467.1L121.6 466.0L121.7 464.9M122.3 448.1L122.4 447.0L122.5 445.9M123.7 430.1L123.8 429.0L123.9 427.9M125.5 410.7L125.6 409.6L125.7 408.5M127.3 391.7L127.4 390.6L127.5 389.5M129.3 373.5L129.4 372.4L129.5 371.3M131.8 354.7L132.0 353.6L132.2 352.5M134.8 336.1L135.0 335.0L135.2 333.9M138.2 317.7L138.4 316.6L138.6 315.5M142.1 299.1L142.4 298.0L142.7 296.9M147.3 281.0L147.6 280.0L148.0 279.0M153.9 263.6L154.4 262.6L154.9 261.6M162.0 247.9L162.6 247.0L163.2 246.1M171.7 233.3L172.4 232.4L173.1 231.5M183.2 220.8L184.0 220.0L184.8 219.3M198.1 208.3L199.0 207.7L199.9 207.1M214.0 199.0L215.0 198.5L216.0 198.0M232.3 191.0L233.3 190.6L234.3 190.2M250.4 184.7L251.0 184.5L252.5 184.0L252.5 184.0M267.9 179.3L269.0 179.0L270.1 178.7M285.5 175.2L286.6 175.0L287.7 174.8M303.2 172.3L303.5 172.2L305.0 172.0L305.4 171.9M321.7 169.2L323.0 169.0L323.9 168.9M340.8 166.7L342.0 166.6L343.0 166.5M360.0 164.4L361.6 164.2L362.2 164.2M379.2 162.7L380.0 162.6L381.4 162.5M397.2 160.8L398.5 160.7L399.4 160.6M416.3 159.5L417.9 159.4L418.5 159.3M434.3 158.4L436.3 158.2L436.5 158.2M453.5 157.0L455.7 156.8M471.5 155.6L473.7 155.5M490.6 154.4L492.0 154.3L492.8 154.3M509.4 153.5L511.6 153.4M527.9 152.7L530.1 152.7M546.6 152.1L548.8 152.1M565.1 151.6L567.3 151.5M584.0 151.2L584.8 151.2L586.2 151.1M602.9 150.8L605.1 150.8M621.7 150.5L623.9 150.5M640.4 150.2L641.8 150.2L642.6 150.2M659.1 150.0L661.3 150.0M678.0 149.8L680.2 149.8M697.9 149.6L700.1 149.6M717.1 149.5L717.9 149.5L719.3 149.5" stroke="#2b3de6"/></g>
<g fill="none" stroke-width="3.8" stroke-linecap="round"><line x1="293.5" x2="363.5" y1="203.8" y2="203.8" stroke="#000"/><line x1="293.5" x2="363.5" y1="242.5" y2="242.5" stroke="#000" stroke-dasharray="13.7 17.6"/><line x1="293.6" x2="363.5" y1="294.2" y2="294.2" stroke="#000" stroke-dasharray="2.2 16.65"/><line x1="436.5" x2="507.0" y1="203.8" y2="203.8" stroke="#ee0d15"/><line x1="436.5" x2="507.0" y1="242.5" y2="242.5" stroke="#ee0d15" stroke-dasharray="13.7 17.6"/><line x1="568.7" x2="639.0" y1="203.8" y2="203.8" stroke="#2b3de6"/><line x1="568.7" x2="639.0" y1="242.5" y2="242.5" stroke="#2b3de6" stroke-dasharray="13.7 17.6"/><line x1="570.0" x2="639.0" y1="289.7" y2="289.7" stroke="#2b3de6" stroke-dasharray="2.2 16.65"/></g>
<g stroke="#fff" stroke-width="1"><line x1="279.5" x2="279.5" y1="176" y2="266"/><line x1="424.8" x2="424.8" y1="176" y2="266"/><line x1="465.5" x2="465.5" y1="141" y2="266"/><line x1="710.3" x2="710.3" y1="140" y2="266"/></g>
<g font-family="Liberation Serif, serif" fill="#000" stroke="#000" stroke-width="0.2" opacity="0.999"><text x="371.2" y="214.3" font-size="30.5">O</text><text x="371.2" y="253" font-size="30.5">O<tspan dy="10.5" font-size="19">2</tspan><tspan dy="-10.5" font-size="30.5">&#8203;</tspan></text><text x="371.2" y="304.3" font-size="30.5">O<tspan dy="10.5" font-size="19">2</tspan><tspan dy="-10.5" font-size="30.5">&#8203;</tspan>(a<tspan dy="-12.5" font-size="19.5">1</tspan><tspan dy="12.5">&#916;)</tspan></text><text x="514.5" y="214.3" font-size="30.5">H</text><text x="514.5" y="253" font-size="30.5">H<tspan dy="10.5" font-size="19">2</tspan><tspan dy="-10.5" font-size="30.5">&#8203;</tspan></text><text x="646.3" y="214.3" font-size="30.5">OH</text><text x="646.3" y="253" font-size="30.5">HO<tspan dy="10.5" font-size="19">2</tspan><tspan dy="-10.5" font-size="30.5">&#8203;</tspan></text><text x="646.3" y="299.4" font-size="30.5">H<tspan dy="10.5" font-size="19">2</tspan><tspan dy="-10.5" font-size="30.5">&#8203;</tspan>O<tspan dy="10.5" font-size="19">2</tspan><tspan dy="-10.5" font-size="30.5">&#8203;</tspan></text><text x="52" y="528.9" font-size="31">10<tspan dx="-0.8" dy="-13.6" font-size="20.5">12</tspan></text><text x="52" y="404.1" font-size="31">10<tspan dx="-0.8" dy="-13.6" font-size="20.5">13</tspan></text><text x="52" y="279.3" font-size="31">10<tspan dx="-0.8" dy="-13.6" font-size="20.5">14</tspan></text><text x="52" y="154.5" font-size="31">10<tspan dx="-0.8" dy="-13.6" font-size="20.5">15</tspan></text><text x="52" y="29.8" font-size="31">10<tspan dx="-0.8" dy="-13.6" font-size="20.5">16</tspan></text><text x="112.0" y="552.7" font-size="31" text-anchor="middle">0.0</text><text x="215.1" y="552.7" font-size="31" text-anchor="middle">0.5</text><text x="318.2" y="552.7" font-size="31" text-anchor="middle">1.0</text><text x="421.3" y="552.7" font-size="31" text-anchor="middle">1.5</text><text x="524.4" y="552.7" font-size="31" text-anchor="middle">2.0</text><text x="627.5" y="552.7" font-size="31" text-anchor="middle">2.5</text><text x="730.6" y="552.7" font-size="31" text-anchor="middle">3.0</text><text x="420.2" y="603.4" font-size="35.3" text-anchor="middle">Position in jet (cm)</text><text transform="translate(33.6,352.3) rotate(-90)" font-size="35">Density<tspan dx="2"> (cm</tspan><tspan dx="0.5" dy="-15.5" font-size="23.5">-3</tspan><tspan dx="2.5" dy="15.5">)</tspan></text></g>
</svg>
</body></html>
